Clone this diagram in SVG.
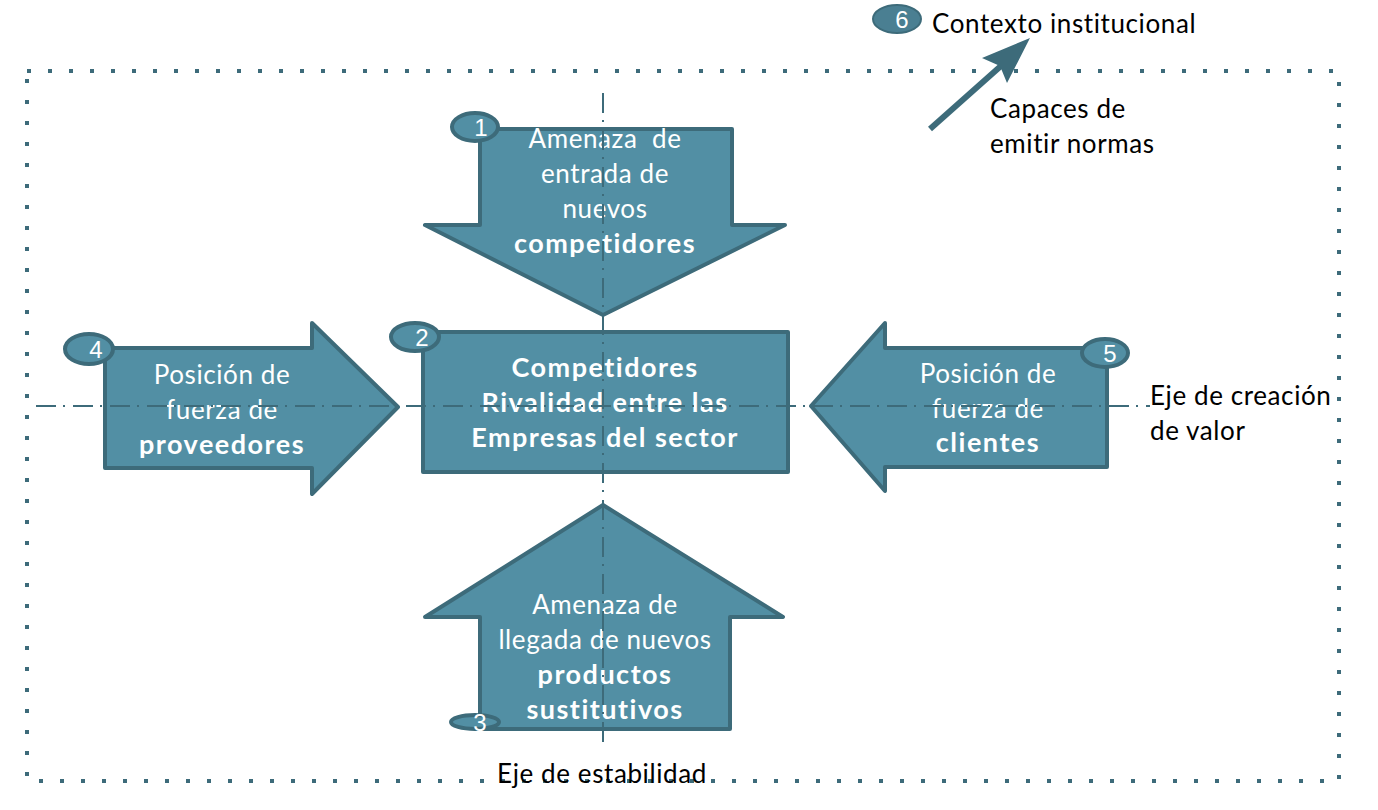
<svg xmlns="http://www.w3.org/2000/svg" width="1378" height="810" viewBox="0 0 1378 810">
<style>
.shape{fill:#528fa4;stroke:#3d6b7a;stroke-width:4;stroke-linejoin:round}
.badge{fill:#528fa4;stroke:#3d6b7a;stroke-width:4}
.num{font-family:"Liberation Sans",Arial,sans-serif;font-size:24px;fill:#ffffff;text-anchor:middle}
.wt{font-family:Lato,"Open Sans",sans-serif;font-size:26px;letter-spacing:0.6px;fill:#ffffff;text-anchor:middle}
.wb{font-family:Lato,"Open Sans",sans-serif;font-size:27px;letter-spacing:1.5px;font-weight:bold;fill:#ffffff;text-anchor:middle}
.bt{font-family:Lato,"Open Sans",sans-serif;font-size:26px;letter-spacing:0.6px;fill:#000000}
.axis{fill:none;stroke:#3d6b7a;stroke-width:2;stroke-dasharray:20 7 2 8}
.border{fill:none;stroke:#3d6b7a;stroke-width:4;stroke-dasharray:4 17}
</style>
<rect width="1378" height="810" fill="#ffffff"/>
<rect class="border" x="27" y="71" width="1312" height="710"/>

<g id="node1">
<polygon class="shape" points="480,129 732,129 732,225 785,225 603,315 425,225 480,225"/>
<ellipse class="badge" cx="475" cy="127" rx="23" ry="14"/>
<text class="num" x="481" y="136">1</text>
<text class="wt" x="605" y="148">Amenaza&#160; de</text>
<text class="wt" x="605" y="183">entrada de</text>
<text class="wt" x="605" y="218">nuevos</text>
<text class="wb" x="605" y="253">competidores</text>
</g>

<g id="node2">
<rect class="shape" x="423" y="332" width="365" height="140"/>
<ellipse class="badge" cx="415" cy="337" rx="24" ry="14"/>
<text class="num" x="422" y="346">2</text>
<text class="wb" x="605" y="377">Competidores</text>
<text class="wb" x="605" y="412">Rivalidad entre las</text>
<text class="wb" x="605" y="447">Empresas del sector</text>
</g>

<g id="node4">
<polygon class="shape" points="105,348 312,348 312,323 398,407 312,494 312,468 105,468"/>
<ellipse class="badge" cx="89" cy="349" rx="24" ry="15"/>
<text class="num" x="96" y="358">4</text>
<text class="wt" x="222" y="384">Posición de</text>
<text class="wt" x="222" y="419">fuerza de</text>
<text class="wb" x="222" y="454">proveedores</text>
</g>

<g id="node5">
<polygon class="shape" points="1107,348 885,348 885,323 811,406 885,491 885,467 1107,467"/>
<ellipse class="badge" cx="1105" cy="353" rx="23" ry="14"/>
<text class="num" x="1110" y="362">5</text>
<text class="wt" x="988" y="383">Posición de</text>
<text class="wt" x="988" y="418">fuerza de</text>
<text class="wb" x="988" y="452">clientes</text>
</g>

<g id="node3">
<polygon class="shape" points="603,505 783,617 730,617 730,729 480,729 480,617 425,617"/>
<ellipse class="badge" cx="475" cy="722" rx="24" ry="7" stroke-width="3"/>
<text class="num" x="480" y="731">3</text>
<text class="wt" x="605" y="614">Amenaza de</text>
<text class="wt" x="605" y="649">llegada de nuevos</text>
<text class="wb" x="605" y="684">productos</text>
<text class="wb" x="605" y="719">sustitutivos</text>
</g>

<g id="node6">
<ellipse cx="897" cy="19" rx="24" ry="14" fill="#4a7f92" stroke="#3d6b7a" stroke-width="2"/>
<text class="num" x="902" y="28">6</text>
<text class="bt" x="932" y="33">Contexto institucional</text>
</g>

<g id="labels">
<text class="bt" x="1150" y="405">Eje de creación</text>
<text class="bt" x="1150" y="440">de valor</text>
<text class="bt" x="602" y="783" text-anchor="middle">Eje de estabilidad</text>
<text class="bt" x="990" y="118">Capaces de</text>
<text class="bt" x="990" y="153">emitir normas</text>
</g>

<g id="connectors">
<line class="axis" x1="36" y1="406" x2="1150" y2="406"/>
<line class="axis" x1="603" y1="93" x2="603" y2="748"/>
<line x1="930" y1="129" x2="1002" y2="65" stroke="#3d6b7a" stroke-width="6"/>
<polygon points="1030,38 1007,83 1000,66 982,58" fill="#3d6b7a"/>
</g>
</svg>
